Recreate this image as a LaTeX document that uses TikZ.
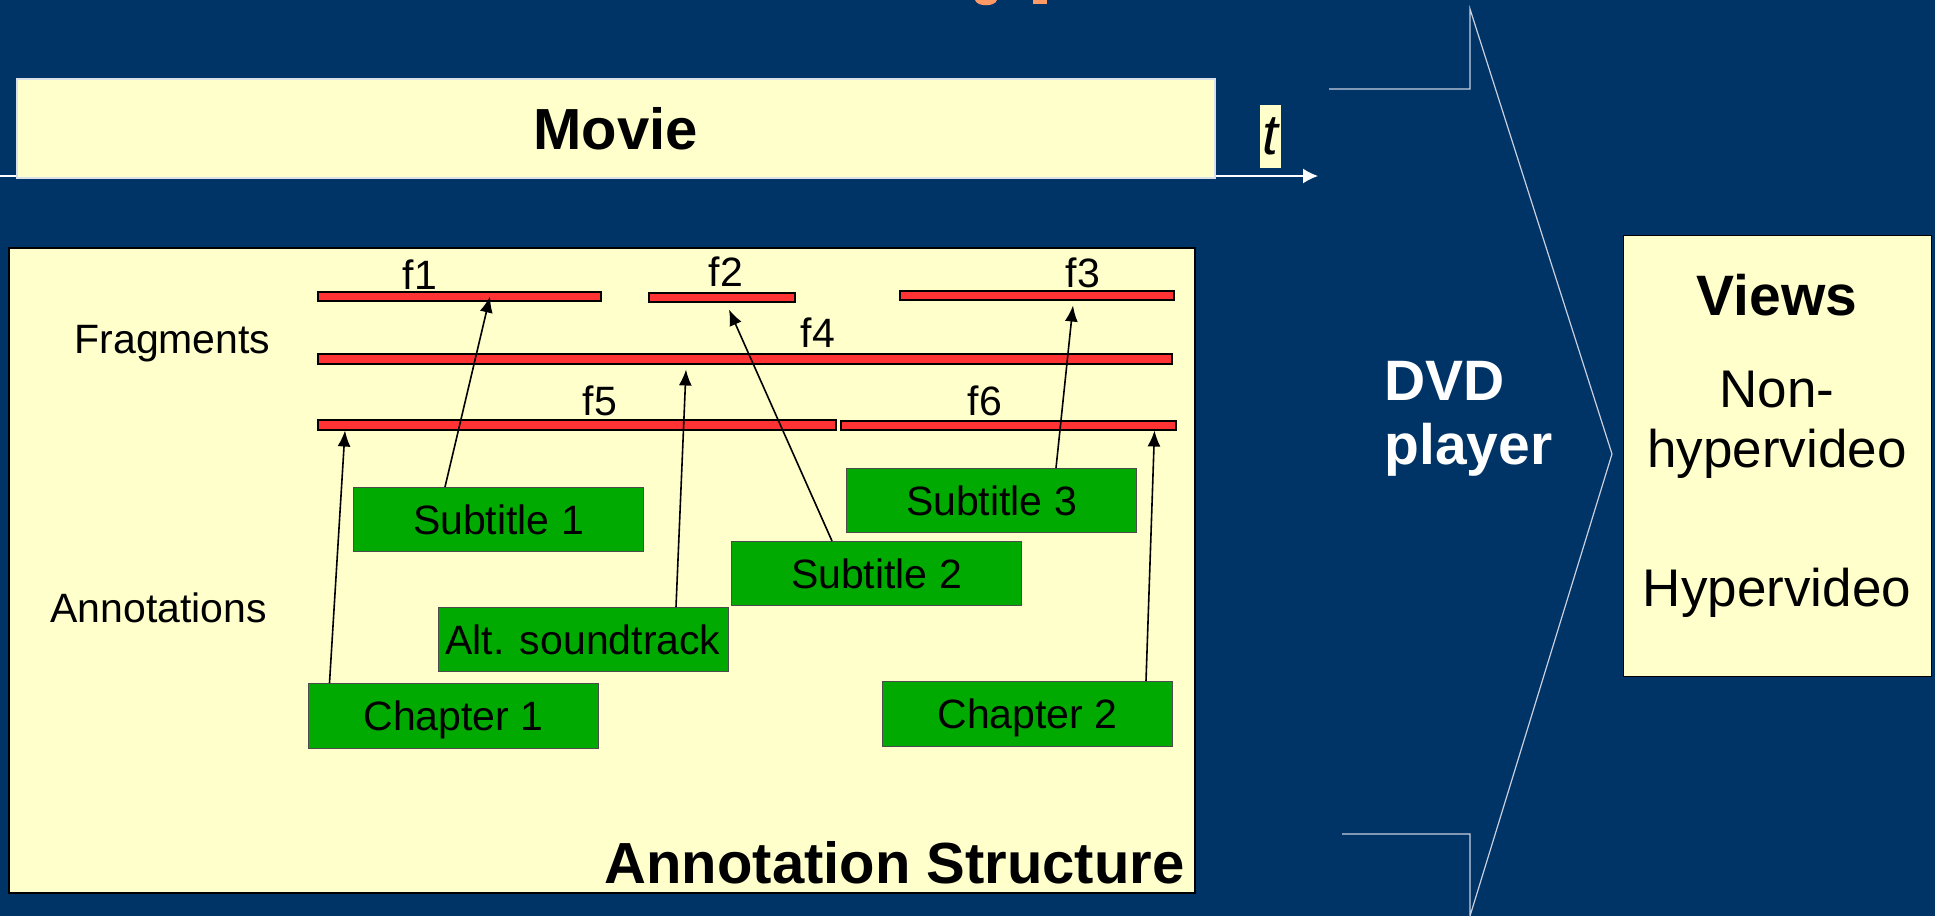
\documentclass[tikz,border=0pt]{standalone}
\usepackage{fontspec}
\setmainfont{Liberation Sans}
\usetikzlibrary{arrows.meta}
\definecolor{navybg}{RGB}{0,51,102}
\definecolor{cream}{RGB}{255,255,204}
\definecolor{fragred}{RGB}{255,51,51}
\definecolor{boxgreen}{RGB}{0,170,0}
\definecolor{titleorange}{RGB}{255,153,102}
\definecolor{chevron}{RGB}{200,208,224}
\newcommand\smallfnt{\fontsize{41pt}{49pt}\selectfont}
\newcommand\bigfnt{\fontsize{58pt}{64pt}\selectfont\bfseries}
\newcommand\viewfnt{\fontsize{53pt}{60pt}\selectfont}
\begin{document}
\begin{tikzpicture}[x=1pt,y=-1pt,
    fragbar/.style={draw=black,line width=1.5pt,fill=fragred,inner sep=0pt,minimum height=9pt,anchor=north west},
    annbox/.style={draw=black!70,line width=1pt,fill=boxgreen,inner sep=0pt,minimum width=290pt,minimum height=64pt,
      anchor=north west,font=\smallfnt,text height=29.5pt,text depth=0pt},
    fraglab/.style={font=\smallfnt,anchor=base},
    link/.style={line width=1.6pt,-{Latex[length=16pt,width=13pt]}}]
    \fill[navybg] (0,0) rectangle (1935,916);
    \useasboundingbox (0,0) rectangle (1935,916);
    % cut-off title
    \fill[titleorange] (975,0) .. controls (977,7) and (995,7) .. (997,0) -- cycle;
    \fill[titleorange] (1033,0) rectangle (1047,3.5);
    % movie and time axis
    \coordinate (tl0) at (0,176);
    \coordinate (tl1) at (1318,176);
    \draw[white,line width=1.5pt,-{Latex[length=15pt,width=15pt]}] (tl0) -- (tl1);
    \node[fill=cream,draw=white!85!navybg,line width=1.5pt,inner sep=0pt,minimum width=1198pt,minimum height=99pt,
      anchor=north west,font=\bigfnt,text height=41.5pt,text depth=0pt] (movie) at (16,78) {Movie};
    \node[fill=cream,inner sep=0pt,minimum width=21pt,minimum height=63pt,anchor=north west,
      font=\fontsize{57pt}{60pt}\selectfont\itshape] (tlab) at (1260,105) {t};
    % annotation structure
    \node[fill=cream,draw=black,line width=1.5pt,inner sep=0pt,minimum width=1186pt,minimum height=645pt,anchor=north west] (annot) at (8,247) {};
    \node[font=\smallfnt,anchor=base west] (fraghd) at (71,353) {Fragments};
    \node[font=\smallfnt,anchor=base west] (annhd) at (47,622) {Annotations};
    \node[font=\bigfnt,anchor=base east] (annstruct) at (1188,883) {Annotation Structure};
    % fragments
    \node[fragbar,minimum width=283pt] (f1) at (317,291) {};
    \node[fragbar,minimum width=146pt] (f2) at (648,292) {};
    \node[fragbar,minimum width=274pt] (f3) at (899,290) {};
    \node[fragbar,minimum width=854pt,minimum height=10pt] (f4) at (317,353) {};
    \node[fragbar,minimum width=518pt,minimum height=10pt] (f5) at (317,419) {};
    \node[fragbar,minimum width=335pt] (f6) at (840,420) {};
    \node[fraglab] (lf1) at (420,289) {f1};
    \node[fraglab] (lf2) at (726,286) {f2};
    \node[fraglab] (lf3) at (1083,287) {f3};
    \node[fraglab] (lf4) at (818,347) {f4};
    \node[fraglab] (lf5) at (600,415) {f5};
    \node[fraglab] (lf6) at (985,415) {f6};
    % annotations
    \node[annbox] (sub1) at (353,487) {Subtitle 1};
    \node[annbox] (sub2) at (731,541) {Subtitle 2};
    \node[annbox] (sub3) at (846,468) {Subtitle 3};
    \node[annbox] (alt) at (437.5,607) {Alt. soundtrack};
    \node[annbox,minimum height=65pt] (ch1) at (308,683) {Chapter 1};
    \node[annbox,minimum height=65pt] (ch2) at (882,681) {Chapter 2};
    \draw[link] ([xshift=21.5pt]ch1.north west) -- ([xshift=28pt]f5.south west);
    \draw[link] ([xshift=92pt]sub1.north west) -- ([xshift=173pt,yshift=5pt]f1.south west);
    \draw[link] ([xshift=238.5pt]alt.north west) -- ([xshift=369pt,yshift=-5pt]f4.south west);
    \draw[link] ([xshift=101pt]sub2.north west) -- ([xshift=81pt,yshift=-7pt]f2.south west);
    \draw[link] ([xshift=210pt]sub3.north west) -- ([xshift=174pt,yshift=-5pt]f3.south west);
    \draw[link] ([xshift=264pt]ch2.north west) -- ([xshift=314.5pt]f6.south west);
    % player arrow
    \draw[chevron,line width=1.2pt] (1342,834) -- (1470,834) -- (1470,916) -- (1612,454) -- (1470,9) -- (1470,89) -- (1329,89);
    \node[white,font=\fontsize{57pt}{64pt}\selectfont\bfseries,anchor=base west] (dvd) at (1381,400) {DVD};
    \node[white,font=\fontsize{57pt}{64pt}\selectfont\bfseries,anchor=base west] (player) at (1381,464) {player};
    % views
    \node[fill=cream,draw=black,line width=1pt,inner sep=0pt,minimum width=308pt,minimum height=441pt,anchor=north west] (views) at (1623,235) {};
    \node[font=\fontsize{57pt}{64pt}\selectfont\bfseries,anchor=base] (viewhd) at (1777,315) {Views};
    \node[font=\viewfnt,anchor=base] (nonhv) at (1777,407) {Non-};
    \node[font=\viewfnt,anchor=base] (nonhv2) at (1777,467) {hypervideo};
    \node[font=\viewfnt,anchor=base] (hv) at (1777,606) {Hypervideo};
\end{tikzpicture}
\end{document}
